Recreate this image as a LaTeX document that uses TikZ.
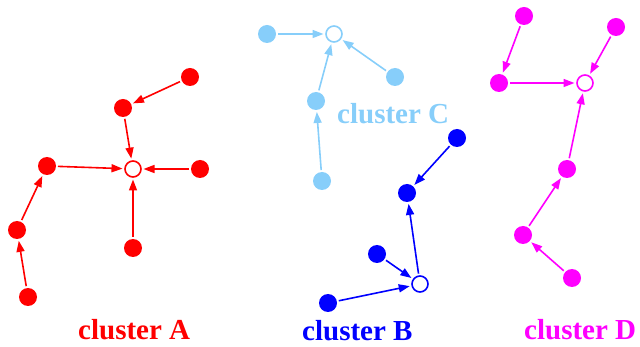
\documentclass[tikz,border=0pt]{standalone}
\usepackage{fontspec}
\setmainfont{Liberation Serif}
\usetikzlibrary{arrows.meta}
\definecolor{cA}{RGB}{255,0,0}
\definecolor{cB}{RGB}{0,0,255}
\definecolor{cC}{RGB}{135,206,250}
\definecolor{cD}{RGB}{255,0,255}
\tikzset{
  dot/.style={circle, fill=#1, draw=none, minimum size=18pt, inner sep=0pt, outer sep=2pt},
  hub/.style={circle, fill=white, draw=#1, line width=1.6pt, minimum size=16pt, inner sep=0pt, outer sep=2.5pt},
  edge/.style={draw=#1, line width=1.6pt, -{Triangle[length=11pt,width=8pt,fill=#1]}},
  lbl/.style={text=#1, font=\bfseries\fontsize{29}{31}\selectfont, inner sep=0pt, anchor=base west}
}
\begin{document}
\begin{tikzpicture}[x=1pt,y=-1pt]
\useasboundingbox (0,0) rectangle (640,347);
% cluster A
\node[dot=cA] (a1) at (190,77) {};
\node[dot=cA] (a2) at (123,108) {};
\node[hub=cA] (ah) at (133,169) {};
\node[dot=cA] (a3) at (47,166) {};
\node[dot=cA] (a4) at (200,169) {};
\node[dot=cA] (a5) at (133,248) {};
\node[dot=cA] (a6) at (17,230) {};
\node[dot=cA] (a7) at (28,297) {};
\draw[edge=cA] (a1) -- (a2);
\draw[edge=cA] (a2) -- (ah);
\draw[edge=cA] (a3) -- (ah);
\draw[edge=cA] (a4) -- (ah);
\draw[edge=cA] (a5) -- (ah);
\draw[edge=cA] (a6) -- (a3);
\draw[edge=cA] (a7) -- (a6);
\node[lbl=cA] (la) at (78,340) {cluster A};
% cluster C
\node[dot=cC] (c1) at (267,34) {};
\node[hub=cC] (ch) at (334,34) {};
\node[dot=cC] (c2) at (395,77) {};
\node[dot=cC] (c3) at (316,101) {};
\node[dot=cC] (c4) at (322,181) {};
\draw[edge=cC] (c1) -- (ch);
\draw[edge=cC] (c2) -- (ch);
\draw[edge=cC] (c3) -- (ch);
\draw[edge=cC] (c4) -- (c3);
\node[lbl=cC] (lc) at (337,124) {cluster C};
% cluster B
\node[dot=cB] (b1) at (457,138) {};
\node[dot=cB] (b2) at (407,193) {};
\node[dot=cB] (b3) at (377,254) {};
\node[hub=cB] (bh) at (420,284) {};
\node[dot=cB] (b4) at (328,303) {};
\draw[edge=cB] (b1) -- (b2);
\draw[edge=cB] (bh) -- (b2);
\draw[edge=cB] (b3) -- (bh);
\draw[edge=cB] (b4) -- (bh);
\node[lbl=cB] (lb) at (302,341) {cluster B};
% cluster D
\node[dot=cD] (d1) at (524,16) {};
\node[dot=cD] (d2) at (499,83) {};
\node[hub=cD] (dh) at (585,83) {};
\node[dot=cD] (d3) at (616,27) {};
\node[dot=cD] (d4) at (567,169) {};
\node[dot=cD] (d5) at (523,235) {};
\node[dot=cD] (d6) at (572,278) {};
\draw[edge=cD] (d1) -- (d2);
\draw[edge=cD] (d2) -- (dh);
\draw[edge=cD] (d3) -- (dh);
\draw[edge=cD] (d4) -- (dh);
\draw[edge=cD] (d5) -- (d4);
\draw[edge=cD] (d6) -- (d5);
\node[lbl=cD] (ld) at (524,340) {cluster D};
\end{tikzpicture}
\end{document}
